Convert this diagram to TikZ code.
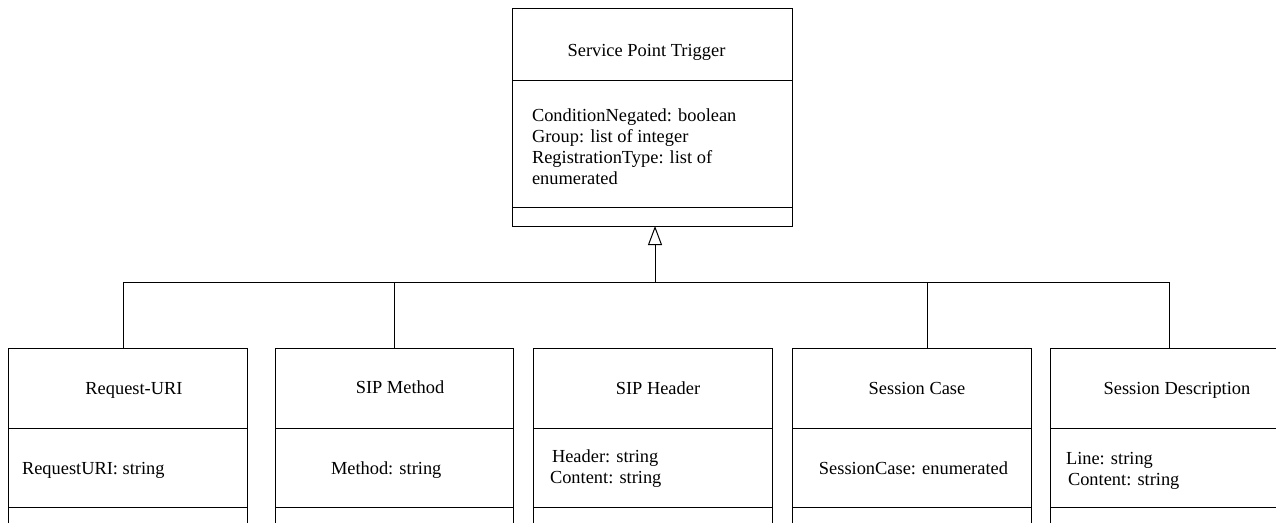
\documentclass[tikz,border=0pt]{standalone}
\usepackage{fontspec}
\setmainfont{Liberation Serif}
\usetikzlibrary{arrows.meta}
\begin{document}
\begin{tikzpicture}[x=1pt,y=-1pt,line width=1pt,
  cls/.style={draw,rectangle,anchor=north west,inner sep=0pt,outer sep=0pt},
  txt/.style={font=\fontsize{18.4}{21}\selectfont,inner sep=0pt,outer sep=0pt},
  ttl/.style={txt,anchor=base},
  attr/.style={txt,anchor=base west},
  gen/.style={-{Triangle[open,length=19pt,width=14pt]}}]
\useasboundingbox (0,0) rectangle (1276,522);
\clip (0,0) rectangle (1276,522);
% parent class
\node[cls,minimum width=280pt,minimum height=218pt] (spt) at (512,8) {};
\draw ([yshift=-72pt]spt.north west) -- ([yshift=-72pt]spt.north east);
\draw ([yshift=-199pt]spt.north west) -- ([yshift=-199pt]spt.north east);
\node[ttl] (sptt) at (646.5,56) {Service Point Trigger};
\node[attr] (spa1) at (532,121) {ConditionNegated: boolean};
\node[attr] (spa2) at (532,142) {Group: list of integer};
\node[attr] (spa3) at (532,163) {RegistrationType: list of};
\node[attr] (spa4) at (532,184) {enumerated};
% child classes
\node[cls,minimum width=239pt,minimum height=212pt] (req) at (8,348) {};
\node[cls,minimum width=238pt,minimum height=212pt] (meth) at (275,348) {};
\node[cls,minimum width=239pt,minimum height=212pt] (hdr) at (533,348) {};
\node[cls,minimum width=239pt,minimum height=212pt] (case) at (792,348) {};
\node[cls,minimum width=239pt,minimum height=212pt] (desc) at (1050,348) {};
\foreach \n in {req,meth,hdr,case,desc}{
  \draw ([yshift=-80pt]\n.north west) -- ([yshift=-80pt]\n.north east);
  \draw ([yshift=-159pt]\n.north west) -- ([yshift=-159pt]\n.north east);
}
\node[ttl] (reqt) at (134,394) {Request-URI};
\node[attr] (reqa) at (22,474) {RequestURI: string};
\node[ttl] (metht) at (400,393) {SIP Method};
\node[attr] (metha) at (331,474) {Method: string};
\node[ttl] (hdrt) at (658,394) {SIP Header};
\node[attr] (hdra1) at (552,462) {Header: string};
\node[attr] (hdra2) at (550,483) {Content: string};
\node[ttl] (caset) at (917,394) {Session Case};
\node[attr,anchor=base east] (casea) at (1008,474) {SessionCase: enumerated};
\node[ttl] (desct) at (1177,394) {Session Description};
\node[attr] (desca1) at (1066,464) {Line: string};
\node[attr] (desca2) at (1068,485) {Content: string};
% generalisation connectors
\coordinate (j) at (655,282);
\draw ([xshift=115pt]req.north west) |- (j);
\draw ([xshift=119pt]meth.north west) |- (j);
\draw ([xshift=135pt]case.north west) |- (j);
\draw ([xshift=119pt]desc.north west) |- (j);
\draw[gen] (j) -- (j |- spt.south);
\end{tikzpicture}
\end{document}
